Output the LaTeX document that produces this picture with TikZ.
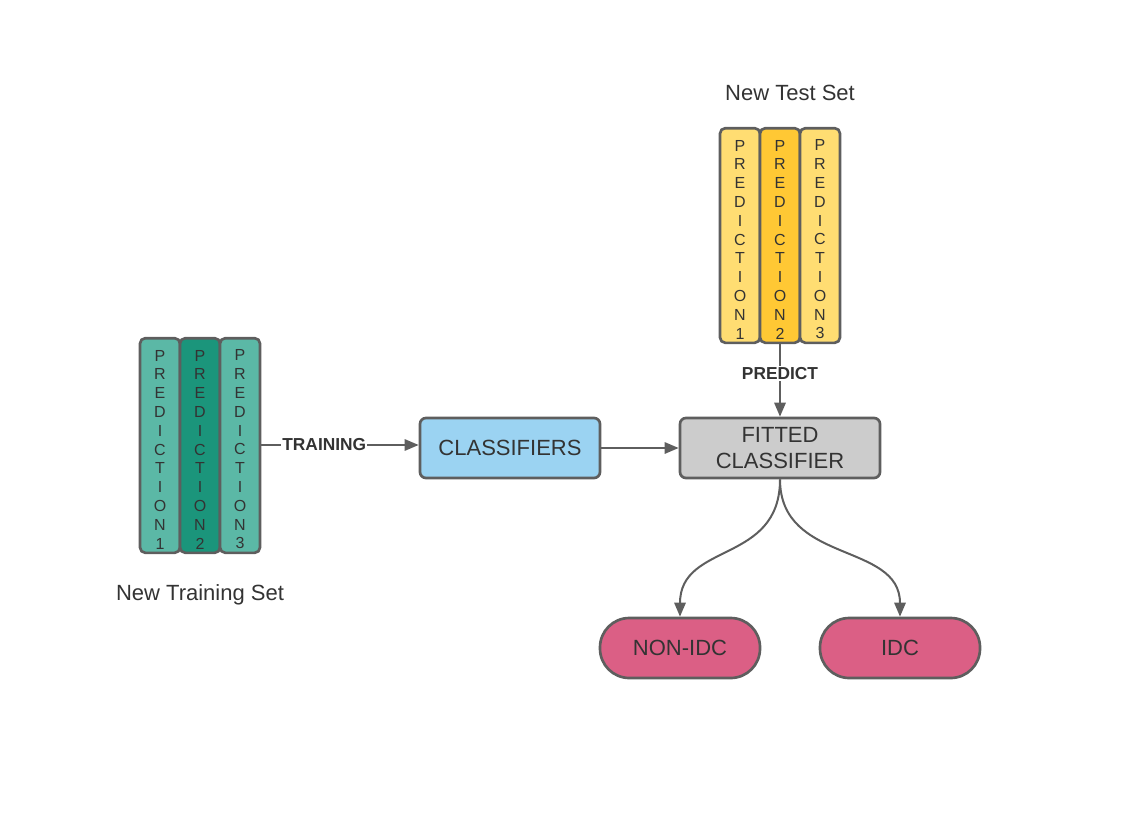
\documentclass[tikz,border=0pt]{standalone}
\usepackage{fontspec}
\setmainfont{Liberation Sans}
\usepackage{tikz}
\usetikzlibrary{positioning, arrows.meta}

\definecolor{edgegray}{HTML}{5E5E5E}
\definecolor{txtgray}{HTML}{333333}
\definecolor{tealA}{HTML}{5BB8A6}
\definecolor{tealB}{HTML}{1B957B}
\definecolor{yelA}{HTML}{FFDD72}
\definecolor{yelB}{HTML}{FFC834}
\definecolor{blueC}{HTML}{9BD3F2}
\definecolor{grayF}{HTML}{CCCCCC}
\definecolor{pinkR}{HTML}{DB5F85}

\newcommand{\predtext}[1]{P\\R\\E\\D\\I\\C\\T\\I\\O\\N\\#1}

\begin{document}
\begin{tikzpicture}[x=0.75pt,y=-0.75pt,>={Triangle[length=10.5pt,width=8.5pt]},
  coltxt/.style={inner sep=0pt,align=center,text=txtgray,yshift=-3pt,
    font=\fontsize{12}{14.1}\selectfont},
  col/.style={draw=edgegray,line width=2pt,rounded corners=4pt,minimum width=30pt,
    minimum height=161pt,inner sep=0pt,label={[coltxt]center:\predtext{#1}}},
  box/.style={draw=edgegray,line width=2pt,rounded corners=4.5pt,minimum width=135pt,
    minimum height=45pt,align=center,text=txtgray,font=\fontsize{16.5}{20}\selectfont},
  pill/.style={draw=edgegray,line width=2pt,rounded corners=22pt,minimum width=120pt,
    minimum height=45pt,text=txtgray,font=\fontsize{16.5}{20}\selectfont},
  conn/.style={->,draw=edgegray,line width=1.5pt},
  lbl/.style={fill=white,inner sep=1pt,text=txtgray,font=\bfseries\fontsize{13}{15}\selectfont},
  title/.style={text=txtgray,font=\fontsize{16.5}{20}\selectfont}]

  \useasboundingbox (0,0) rectangle (1127,828);

  % training set
  \node[col=1,fill=tealA] (tr1) at (160,445.5) {};
  \node[col=2,fill=tealB] (tr2) at (200,445.5) {};
  \node[col=3,fill=tealA] (tr3) at (240,445.5) {};
  \node[title] (trname) at (200,595) {New Training Set};

  % test set
  \node[col=1,fill=yelA] (ts1) at (740,235.5) {};
  \node[col=2,fill=yelB] (ts2) at (780,235.5) {};
  \node[col=3,fill=yelA] (ts3) at (820,235.5) {};
  \node[title] (tsname) at (790,93) {New Test Set};

  \node[box,fill=blueC] (cls) at (510,448) {CLASSIFIERS};
  \node[box,fill=grayF,minimum width=150pt] (fit) at (780,448) {FITTED\\CLASSIFIER};

  \node[pill,fill=pinkR] (nonidc) at (680,648) {NON-IDC};
  \node[pill,fill=pinkR] (idc) at (900,648) {IDC};

  \draw[conn] (tr3.east |- 0,445) -- (cls.west |- 0,445) node[lbl,pos=0.4] (trainlbl) {TRAINING};
  \draw[conn] (cls) -- (fit);
  \draw[conn] (ts2.south) -- (fit.north) node[lbl,pos=0.4] (predlbl) {PREDICT};

  \draw[conn] (fit.south) .. controls +(0,85) and +(0,-75) .. (nonidc.north);
  \draw[conn] (fit.south) .. controls +(0,85) and +(0,-75) .. (idc.north);

\end{tikzpicture}
\end{document}
